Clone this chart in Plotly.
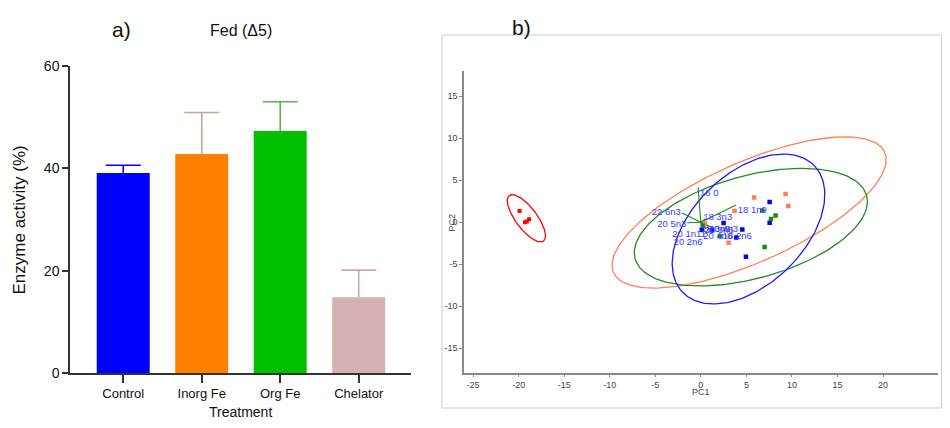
import numpy as np
import plotly.graph_objects as go

# ---------------- Panel a data ----------------
treatments = ["Control", "Inorg Fe", "Org Fe", "Chelator"]
activity = [39.1, 42.8, 47.3, 14.8]
activity_err = [1.5, 8.1, 5.7, 5.3]
bar_colors = ["#0000ff", "#ff8000", "#00c000", "#d5b1b1"]
err_colors = ["#0000ff", "#c8a68c", "#4cbb4c", "#cfa9a9"]
a_ticks = [0, 20, 40, 60]

# ---------------- Panel b data ----------------
red_x = [-19.9, -19.3, -18.85, -19.1]
red_y = [1.35, 0.0, 0.35, 0.1]
orange_x = [5.85, 9.3, 9.6, 3.7, 3.05, 0.45]
orange_y = [2.95, 3.35, 1.95, 1.35, -2.45, -0.15]
blue_x = [7.55, 7.55, 4.55, 4.95, 2.5, 3.9, 0.1, 1.2]
blue_y = [2.4, -0.05, -0.85, -4.1, -0.1, -1.8, -0.9, -0.95]
green_x = [6.75, 7.7, 8.2, 7.0, 2.1, 0.2]
green_y = [1.4, 0.4, 0.8, -2.95, -1.65, -0.4]

# ellipse parameters: centre x, centre y, semi-major, semi-minor, angle (deg)
ell_names = ["red", "orange", "green", "blue"]
ell_cx = [-19.15, 5.3, 5.49, 5.23]
ell_cy = [0.47, 1.17, -0.58, -0.8]
ell_a = [3.3, 16.52, 13.26, 10.46]
ell_b = [1.2, 5.87, 6.08, 6.35]
ell_ang = [-56.0, 26.2, 17.1, 48.9]
ell_colors = ["#ff0000", "#ff7f50", "#228b22", "#1a1aff"]

load_names = ["16 0", "18 1n9", "22 6n3", "20 5n3", "18 3n3", "20 1n11",
              "20 2n6", "20 4n6", "18 2n6", "18 3n6", "20 3n6", "20 4n3"]
load_x = [-0.3, 3.85, -2.05, -1.5, 0.5, 0.3, 0.2, 0.6, 1.0, 0.4, 0.8, 0.5]
load_y = [4.15, 2.05, 1.1, -0.05, 0.4, -0.6, -0.7, -0.8, -0.5, -0.3, -0.4, -0.6]
label_x = [-0.1, 4.05, -2.2, -1.6, 0.25, 0.55, 0.2, 0.25, 2.4, 0.05, 0.4, 0.9]
label_y = [3.35, 1.4, 1.1, -0.3, 0.5, -1.45, -2.45, -1.72, -1.72, -0.85, -1.0, -0.9]
label_pos = ["middle right", "middle right", "middle left", "middle left",
             "middle right", "middle left", "middle left", "middle right",
             "middle right", "middle right", "middle right", "middle right"]

b_xticks = [-25, -20, -15, -10, -5, 0, 5, 10, 15, 20]
b_yticks = [-15, -10, -5, 0, 5, 10, 15]

# page has an 8px body margin: figure is sized to fill the window exactly
OFF = 8
W, H = 950 - 2 * OFF, 428 - 2 * OFF
FONT = "Liberation Sans, Arial, sans-serif"

fig = go.Figure()

# ---- panel a ----
fig.add_trace(go.Bar(x=treatments, y=activity, marker=dict(color=bar_colors, line=dict(width=0)),
                     width=0.675, xaxis="x", yaxis="y", showlegend=False))
tops = [v + e for v, e in zip(activity, activity_err)]
for i in range(len(treatments)):
    fig.add_trace(go.Scatter(
        x=[treatments[i]], y=[tops[i]], mode="markers",
        marker=dict(symbol="line-ew-open", size=25, color=err_colors[i],
                    line=dict(color=err_colors[i], width=1.6)),
        error_y=dict(type="data", symmetric=False, array=[0],
                     arrayminus=[activity_err[i]], width=0,
                     color=err_colors[i], thickness=1.6),
        xaxis="x", yaxis="y", showlegend=False))

# ---- panel b ----
for i in range(len(ell_names)):
    t = np.linspace(0, 2 * np.pi, 200)
    th = np.deg2rad(ell_ang[i])
    ex = ell_cx[i] + ell_a[i] * np.cos(t) * np.cos(th) - ell_b[i] * np.sin(t) * np.sin(th)
    ey = ell_cy[i] + ell_a[i] * np.cos(t) * np.sin(th) + ell_b[i] * np.sin(t) * np.cos(th)
    fig.add_trace(go.Scatter(x=ex, y=ey, mode="lines",
                             line=dict(color=ell_colors[i], width=1.3),
                             xaxis="x2", yaxis="y2", showlegend=False))

lx, ly = [], []
for xe, ye in zip(load_x, load_y):
    lx += [0, xe, None]
    ly += [0, ye, None]
fig.add_trace(go.Scatter(x=lx, y=ly, mode="lines",
                         line=dict(color="#1f8a1f", width=1.1),
                         xaxis="x2", yaxis="y2", showlegend=False))

for xs, ys, c, s in [(red_x, red_y, "#ff0000", 4), (orange_x, orange_y, "#ff7f50", 4.5),
                     (blue_x, blue_y, "#0000ff", 4.5), (green_x, green_y, "#1a8a1a", 4.5)]:
    fig.add_trace(go.Scatter(x=xs, y=ys, mode="markers",
                             marker=dict(symbol="square", size=s, color=c),
                             xaxis="x2", yaxis="y2", showlegend=False))

fig.add_trace(go.Scatter(x=label_x, y=label_y, mode="text", text=load_names,
                         textposition=label_pos,
                         textfont=dict(family=FONT, size=9.5, color="#3a3aff"),
                         xaxis="x2", yaxis="y2", showlegend=False))


def px(x):
    return (x - OFF) / W


def py(y):
    return 1 - (y - OFF) / H


def note(text, x, y, size, color="#111", angle=0):
    return dict(text=text, x=px(x), y=py(y), xref="paper", yref="paper",
                xanchor="center", yanchor="middle", textangle=angle,
                showarrow=False, font=dict(family=FONT, size=size, color=color))


fig.update_layout(
    template="none",
    width=W, height=H, autosize=False,
    margin=dict(l=0, r=0, t=0, b=0, pad=0),
    paper_bgcolor="white", plot_bgcolor="white",
    font=dict(family=FONT, color="#111111"),
    xaxis=dict(domain=[px(70), px(411)], range=[-0.678, 3.666], automargin=False,
               showline=True, linecolor="#333333", linewidth=1.5,
               ticks="outside", ticklen=8, tickcolor="#333333", tickwidth=1.5,
               tickfont=dict(family=FONT, size=13, color="#111111"),
               showgrid=False, zeroline=False, anchor="y"),
    yaxis=dict(domain=[py(373), py(66)], range=[0, 60], automargin=False,
               tickvals=a_ticks, showline=True, linecolor="#333333", linewidth=1.5,
               ticks="outside", ticklen=6, tickcolor="#333333", tickwidth=1.5,
               tickfont=dict(family=FONT, size=14, color="#111111"),
               showgrid=False, zeroline=False, anchor="x"),
    xaxis2=dict(domain=[px(464), px(937.7)], range=[-26.0, 26.0], automargin=False,
                tickvals=b_xticks, ticktext=[str(v) for v in b_xticks],
                showline=True, linecolor="#8a8a8a", linewidth=1.5,
                ticks="outside", ticklen=3, tickcolor="#8a8a8a",
                tickfont=dict(family=FONT, size=9, color="#444444"),
                showgrid=False, zeroline=False, anchor="y2"),
    yaxis2=dict(domain=[py(372.7), py(71)], range=[-17.9, 18.0], automargin=False,
                tickvals=b_yticks, ticktext=[str(v) for v in b_yticks],
                showline=True, linecolor="#8a8a8a", linewidth=1.5,
                ticks="outside", ticklen=3, tickcolor="#8a8a8a",
                tickfont=dict(family=FONT, size=9, color="#444444"),
                showgrid=False, zeroline=False, anchor="x2"),
    shapes=[dict(type="rect", xref="paper", yref="paper",
                 x0=px(442), x1=px(941.5), y0=py(408), y1=py(35),
                 line=dict(color="#cfcfcf", width=1), layer="below")],
    annotations=[
        note("a)", 121, 30, 21),
        note("Fed (Δ5)", 241, 31, 16),
        note("Enzyme activity (%)", 18.5, 220, 17, angle=-90),
        note("Treatment", 240, 411.5, 14),
        note("b)", 521, 28, 21),
        note("PC1", 701, 392, 9, color="#444"),
        note("PC2", 451.5, 223, 9, color="#444", angle=-90),
    ],
)

fig.write_html("out.html")
